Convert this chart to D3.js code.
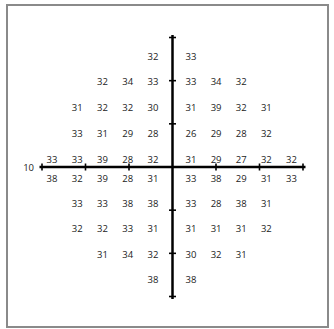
<!DOCTYPE html>
<html>
<head>
<meta charset="utf-8">
<script src="https://cdn.jsdelivr.net/npm/d3@7"></script>
<style>
  body { margin: 0; background: #fff; }
  svg text { font-family: "Open Sans", sans-serif; font-size: 9.5px; fill: #222; }
</style>
</head>
<body>
<svg class="field" width="334" height="329"></svg>
<script>
// test point positions in degrees
const colDeg = [-27, -21, -15, -9, -3, 3, 9, 15, 21, 27]
const rowDeg = [27, 21, 15, 9, 3, -3, -9, -15, -21, -27]

// sensitivity values, one array per row (null = no point)
const row27  = [null, null, null, null, 32, 33, null, null, null, null]
const row21  = [null, null, 32, 34, 33, 33, 34, 32, null, null]
const row15  = [null, 31, 32, 32, 30, 31, 39, 32, 31, null]
const row9   = [null, 33, 31, 29, 28, 26, 29, 28, 32, null]
const row3   = [33, 33, 39, 28, 32, 31, 29, 27, 32, 32]
const rowM3  = [38, 32, 39, 28, 31, 33, 38, 29, 31, 33]
const rowM9  = [null, 33, 33, 38, 38, 33, 28, 38, 31, null]
const rowM15 = [null, 32, 32, 33, 31, 31, 31, 31, 32, null]
const rowM21 = [null, null, 31, 34, 32, 30, 32, 31, null, null]
const rowM27 = [null, null, null, null, 38, 38, null, null, null, null]

const rows = [row27, row21, row15, row9, row3, rowM3, rowM9, rowM15, rowM21, rowM27]

const axisTicks = [-30, -20, -10, 0, 10, 20, 30]
const scaleLabel = "10"

const svg = d3.select("svg.field")

// frame
svg.append("rect")
  .attr("x", 7).attr("y", 5)
  .attr("width", 321).attr("height", 322)
  .attr("fill", "none")
  .attr("stroke", "#8a8a8a")
  .attr("stroke-width", 2)

// axis scales (degrees -> px)
const ax = d3.scaleLinear().domain([-30, 30]).range([42, 303])
const ay = d3.scaleLinear().domain([30, -30]).range([37.5, 296.5])

// point scales (text placement)
const px = d3.scaleLinear().domain([-27, -3, 3, 27]).range([52, 153, 191, 291.5])
const py = d3.scaleLinear().domain([27, 3, -3, -27]).range([56, 159, 178, 279.5])

const axes = svg.append("g").attr("stroke", "#000")

axes.append("line")
  .attr("x1", ax(-30) - 2.5).attr("x2", ax(30) + 2.5)
  .attr("y1", ay(0)).attr("y2", ay(0))
  .attr("stroke-width", 2.5)

axes.append("line")
  .attr("x1", ax(0)).attr("x2", ax(0))
  .attr("y1", ay(30) - 2.5).attr("y2", ay(-30) + 2.5)
  .attr("stroke-width", 2.5)

axes.selectAll("line.xt")
  .data(axisTicks.filter(d => d !== 0))
  .enter()
  .append("line")
  .attr("class", "xt")
  .attr("x1", d => ax(d)).attr("x2", d => ax(d))
  .attr("y1", ay(0) - 3.5).attr("y2", ay(0) + 3.5)
  .attr("stroke-width", 1.6)

axes.selectAll("line.yt")
  .data(axisTicks.filter(d => d !== 0))
  .enter()
  .append("line")
  .attr("class", "yt")
  .attr("y1", d => ay(d)).attr("y2", d => ay(d))
  .attr("x1", ax(0) - 3.5).attr("x2", ax(0) + 3.5)
  .attr("stroke-width", 1.6)

svg.append("text")
  .attr("x", ax(-30) - 8)
  .attr("y", ay(0))
  .attr("text-anchor", "end")
  .attr("dominant-baseline", "central")
  .text(scaleLabel)

// values
const points = []
rows.forEach((r, i) => {
  r.forEach((v, j) => {
    if (v !== null) points.push({ x: colDeg[j], y: rowDeg[i], v: v })
  })
})

svg.selectAll("text.val")
  .data(points)
  .enter()
  .append("text")
  .attr("class", "val")
  .attr("x", d => px(d.x))
  .attr("y", d => py(d.y))
  .attr("text-anchor", "middle")
  .attr("dominant-baseline", "central")
  .text(d => d.v)
</script>
</body>
</html>
